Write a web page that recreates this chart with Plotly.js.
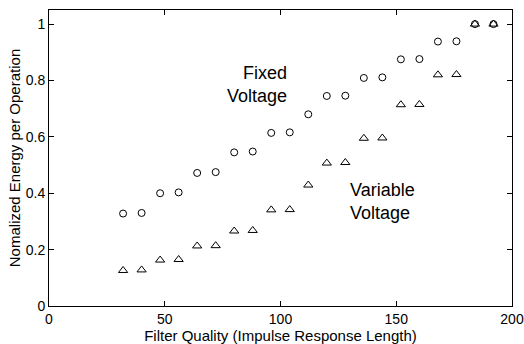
<!DOCTYPE html>
<html>
<head>
<meta charset="utf-8">
<script src="https://cdn.plot.ly/plotly-3.0.1.min.js"></script>
<style>
  html, body { margin: 0; padding: 0; background: #fff; }
  #chart { width: 524px; height: 344px; }
</style>
</head>
<body>
<div id="chart"></div>
<script>
const filterLength = [32, 40, 48, 56, 64, 72, 80, 88, 96, 104, 112, 120, 128, 136, 144, 152, 160, 168, 176, 184, 192];
const fixedVoltage = [0.328, 0.330, 0.400, 0.403, 0.472, 0.475, 0.545, 0.548, 0.614, 0.616, 0.680, 0.745, 0.746, 0.809, 0.811, 0.875, 0.876, 0.938, 0.939, 1.0, 1.0];
const variableVoltage = [0.126, 0.128, 0.163, 0.165, 0.213, 0.214, 0.266, 0.268, 0.341, 0.342, 0.429, 0.507, 0.509, 0.595, 0.596, 0.714, 0.715, 0.820, 0.821, 1.0, 1.0];
const xTicks = [0, 50, 100, 150, 200];
const yTicks = [0, 0.2, 0.4, 0.6, 0.8, 1];
const yTickText = ['0', '0.2', '0.4', '0.6', '0.8', '1'];

const FONT = 'Liberation Sans, Arial, Helvetica, sans-serif';

const traces = [
  {
    x: filterLength, y: fixedVoltage, type: 'scatter', mode: 'markers',
    name: 'Fixed Voltage',
    marker: { symbol: 'circle-open', size: 7, color: '#000', line: { width: 1, color: '#000' } }
  },
  {
    x: filterLength, y: variableVoltage, type: 'scatter', mode: 'markers',
    name: 'Variable Voltage',
    marker: { symbol: 'triangle-up-open', size: 8, color: '#000', line: { width: 1, color: '#000' } }
  }
];

const axisCommon = {
  showgrid: false, zeroline: false,
  showline: true, linecolor: '#000', linewidth: 1, mirror: 'ticks',
  ticks: 'inside', ticklen: 5, tickwidth: 1, tickcolor: '#000',
  tickfont: { family: FONT, size: 14, color: '#000' }
};

const layout = {
  width: 524, height: 344,
  margin: { l: 49, r: 12, t: 10, b: 38 },
  paper_bgcolor: '#fff', plot_bgcolor: '#fff',
  showlegend: false,
  font: { family: FONT, color: '#000' },
  xaxis: Object.assign({}, axisCommon, {
    range: [0, 200], tickvals: xTicks, ticktext: xTicks.map(String),
    title: { text: 'Filter Quality (Impulse Response Length)', font: { family: FONT, size: 15, color: '#000' }, standoff: 1 }
  }),
  yaxis: Object.assign({}, axisCommon, {
    range: [0, 1.05], tickvals: yTicks, ticktext: yTickText,
    title: { text: 'Nomalized Energy per Operation', font: { family: FONT, size: 15, color: '#000' }, standoff: 1 }
  }),
  annotations: [
    {
      x: 103.8, y: 0.785, xref: 'x', yref: 'y', xanchor: 'right', yanchor: 'middle', align: 'right',
      text: 'Fixed<br>Voltage', showarrow: false, font: { family: FONT, size: 18, color: '#000' }
    },
    {
      x: 129.0, y: 0.371, xref: 'x', yref: 'y', xanchor: 'left', yanchor: 'middle', align: 'left',
      text: 'Variable<br>Voltage', showarrow: false, font: { family: FONT, size: 18, color: '#000' }
    }
  ]
};

Plotly.newPlot('chart', traces, layout, { displayModeBar: false, staticPlot: true });
</script>
</body>
</html>
